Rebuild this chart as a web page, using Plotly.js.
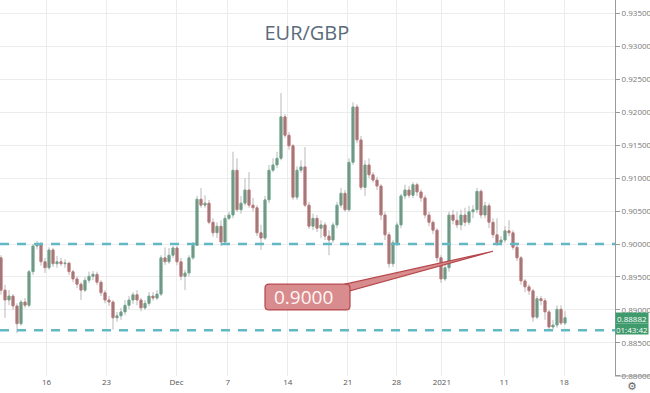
<!DOCTYPE html>
<html><head><meta charset="utf-8">
<script src="https://cdn.plot.ly/plotly-3.0.1.min.js"></script>
<style>html,body{margin:0;padding:0;background:#fff}#chart{width:650px;height:393px}</style>
</head><body><div id="chart"></div>
<script>
// EUR/GBP candles (one bar ≈ 8h), 10 Nov 2020 – 18 Jan 2021
const open = [.8979,.8930,.8915,.8921,.8906,.8879,.8912,.8907,.8958,.8997,
 .9000,.8973,.8964,.8991,.8970,.8973,.8970,.8971,.8958,.8947,
 .8939,.8930,.8945,.8951,.8954,.8942,.8926,.8915,.8912,.8888,
 .8891,.8897,.8907,.8915,.8923,.8915,.8903,.8910,.8921,.8918,
 .8924,.8979,.8973,.8983,.8994,.8973,.8951,.8956,.8979,.8998,
 .9068,.9059,.9062,.9033,.9017,.9027,.9003,.9039,.9044,.9112,
 .9052,.9062,.9082,.9059,.9055,.9017,.9009,.9067,.9112,.9120,
 .9130,.9193,.9165,.9149,.9071,.9112,.9117,.9059,.9027,.9039,
 .9024,.9029,.9012,.9006,.9029,.9059,.9077,.9052,.9124,.9208,
 .9158,.9086,.9120,.9105,.9097,.9088,.9044,.9014,.8970,.9002,
 .9029,.9073,.9082,.9074,.9090,.9079,.9070,.9044,.9033,.9021,
 .8979,.8947,.8964,.9044,.9036,.9029,.9044,.9033,.9049,.9052,
 .9080,.9044,.9058,.9033,.9014,.9002,.9006,.9020,.9017,.8995,
 .8979,.8944,.8935,.8929,.8889,.8917,.8914,.8897,.8874,.8877,
 .8901,.8880];
const high = [.8983,.8938,.8930,.8924,.8910,.8915,.8918,.8961,.9000,.9005,
 .9003,.8979,.8995,.8994,.8982,.8979,.8977,.8973,.8961,.8951,
 .8942,.8950,.8958,.8959,.8958,.8945,.8930,.8921,.8915,.8897,
 .8903,.8915,.8921,.8927,.8930,.8918,.8915,.8927,.8927,.8930,
 .8983,.8995,.8994,.8997,.8997,.8979,.8961,.8983,.9003,.9073,
 .9085,.9074,.9067,.9039,.9033,.9036,.9044,.9049,.9140,.9130,
 .9073,.9100,.9109,.9070,.9059,.9029,.9073,.9120,.9130,.9140,
 .9229,.9197,.9170,.9152,.9118,.9127,.9147,.9064,.9046,.9044,
 .9036,.9033,.9021,.9033,.9064,.9085,.9082,.9130,.9215,.9212,
 .9164,.9127,.9130,.9109,.9102,.9091,.9049,.9018,.9006,.9033,
 .9076,.9090,.9088,.9094,.9093,.9083,.9074,.9049,.9036,.9024,
 .8983,.8970,.9049,.9052,.9049,.9052,.9055,.9058,.9059,.9085,
 .9083,.9064,.9062,.9039,.9039,.9012,.9027,.9036,.9021,.9000,
 .8982,.8947,.8939,.8932,.8921,.8921,.8918,.8900,.8885,.8907,
 .8907,.8898];
const low = [.8923,.8888,.8907,.8900,.8865,.8876,.8903,.8904,.8953,.8992,
 .8967,.8956,.8961,.8965,.8964,.8967,.8964,.8953,.8942,.8933,
 .8915,.8927,.8941,.8945,.8938,.8921,.8910,.8906,.8870,.8882,
 .8885,.8892,.8901,.8909,.8907,.8898,.8900,.8906,.8914,.8915,
 .8921,.8968,.8970,.8979,.8968,.8945,.8930,.8951,.8976,.8997,
 .9055,.9055,.9030,.9011,.9009,.8997,.9000,.9036,.9039,.9049,
 .9046,.9058,.9055,.9049,.9012,.8991,.9006,.9062,.9109,.9115,
 .9127,.9161,.9143,.9067,.9067,.9108,.9056,.9023,.9021,.9018,
 .9009,.9006,.8983,.9002,.9024,.9055,.9049,.9049,.9120,.9153,
 .9082,.9073,.9100,.9093,.9082,.9036,.9006,.8964,.8965,.8997,
 .9024,.9068,.9070,.9070,.9073,.9064,.9039,.9027,.9015,.8973,
 .8941,.8944,.8958,.9030,.9024,.9021,.9027,.9029,.9039,.9047,
 .9039,.9039,.9024,.9009,.8997,.8998,.9002,.9012,.8991,.8974,
 .8938,.8927,.8923,.8882,.8886,.8907,.8885,.8868,.8870,.8873,
 .8877,.8877];
const close = [.8930,.8915,.8921,.8906,.8879,.8912,.8907,.8958,.8997,.9000,
 .8973,.8964,.8991,.8970,.8973,.8970,.8971,.8958,.8947,.8939,
 .8930,.8945,.8951,.8954,.8942,.8926,.8915,.8912,.8888,.8891,
 .8897,.8907,.8915,.8923,.8915,.8903,.8910,.8921,.8918,.8924,
 .8979,.8973,.8983,.8994,.8973,.8951,.8956,.8979,.8998,.9068,
 .9059,.9062,.9033,.9017,.9027,.9003,.9039,.9044,.9112,.9052,
 .9062,.9082,.9059,.9055,.9017,.9009,.9067,.9112,.9120,.9130,
 .9193,.9165,.9149,.9071,.9112,.9117,.9059,.9027,.9039,.9024,
 .9029,.9012,.9006,.9029,.9059,.9077,.9052,.9124,.9208,.9158,
 .9086,.9120,.9105,.9097,.9088,.9044,.9014,.8970,.9002,.9029,
 .9073,.9082,.9074,.9090,.9079,.9070,.9044,.9033,.9021,.8979,
 .8947,.8964,.9044,.9036,.9029,.9044,.9033,.9049,.9052,.9080,
 .9044,.9058,.9033,.9014,.9002,.9006,.9020,.9017,.8995,.8979,
 .8944,.8935,.8929,.8889,.8917,.8914,.8897,.8874,.8877,.8901,
 .8880,.88882];

const tickPositions = [11.4, 26.4, 43.9, 56.7, 71.7, 86.7, 98.9, 110.2, 125.8, 140.8];
const tickLabels = ["16", "23", "Dec", "7", "14", "21", "28", "2021", "11", "18"];
const levels = [0.9000, 0.8869];
const lastPrice = 0.88882;
const countdown = "01:43:42";
const calloutText = "0.9000";
const calloutBox = [66, 87.25, 0.8900, 0.8939];   // bar0, bar1, price0, price1
const calloutTip = [123, 0.8989];
const calloutBase = [[86, 0.8939], [87.25, 0.8929]];

const idx = open.map((_, i) => i);
const bodyHi = open.map((o, i) => Math.max(o, close[i]));
const bodyLo = open.map((o, i) => Math.min(o, close[i]));
const wx = [], wy = [];
idx.forEach(i => { wx.push(i, i, null); wy.push(low[i], high[i], null); });

const wicks = {type: 'scatter', mode: 'lines', x: wx, y: wy, hoverinfo: 'skip',
  line: {color: '#b9b9b9', width: 1}, showlegend: false};
const bodies = {type: 'candlestick', x: idx, open: open, high: bodyHi, low: bodyLo, close: close,
  increasing: {line: {color: '#2f8a5f', width: 1}, fillcolor: '#2b5a45'},
  decreasing: {line: {color: '#b23a3e', width: 1}, fillcolor: '#5c3030'},
  whiskerwidth: 0, showlegend: false, hoverinfo: 'skip'};

const [b0, b1, p0, p1] = calloutBox;
const rk = 1, rp = 0.0006;
const boxPath = `M ${b0+rk},${p1} L ${b1-rk},${p1} Q ${b1},${p1} ${b1},${p1-rp} L ${b1},${p0+rp} Q ${b1},${p0} ${b1-rk},${p0} L ${b0+rk},${p0} Q ${b0},${p0} ${b0},${p0+rp} L ${b0},${p1-rp} Q ${b0},${p1} ${b0+rk},${p1} Z`;
const wedgePath = `M ${calloutBase[0][0]},${calloutBase[0][1]} L ${calloutTip[0]},${calloutTip[1]} L ${calloutBase[1][0]},${calloutBase[1][1]} Z`;

const shapes = levels.map(v => ({type: 'line', xref: 'paper', x0: 0, x1: 1, yref: 'y', y0: v, y1: v,
  line: {color: '#62b9c4', width: 2.5, dash: '9px,8px'}, layer: 'above'}));
shapes.push({type: 'path', path: wedgePath, xref: 'x', yref: 'y', fillcolor: '#d98c8d',
  line: {color: '#b5474c', width: 1.2}, layer: 'above'});
shapes.push({type: 'path', path: boxPath, xref: 'x', yref: 'y', fillcolor: '#d98c8d',
  line: {color: '#b5474c', width: 1.2}, layer: 'above'});
shapes.push({type: 'line', xref: 'paper', x0: 1, x1: 1.057, yref: 'paper', y0: 0, y1: 0,
  line: {color: '#9a9a9a', width: 1}});

const annotations = [
  {text: calloutText, xref: 'x', yref: 'y', x: 67.8, y: (p0 + p1) / 2, xanchor: 'left', yanchor: 'middle',
   showarrow: false, font: {family: 'Open Sans', size: 19, color: '#fff6f6'}},
  {text: lastPrice.toFixed(5), xref: 'paper', yref: 'y', x: 1, y: lastPrice, xanchor: 'left', yanchor: 'middle',
   showarrow: false, bgcolor: '#3f9a6c', width: 31, height: 9, borderpad: 0.5,
   font: {family: 'Open Sans', size: 8, color: '#ffffff'}},
  {text: countdown, xref: 'paper', yref: 'y', x: 1, y: lastPrice, yshift: -11, xanchor: 'left', yanchor: 'middle',
   showarrow: false, bgcolor: '#3f9a6c', width: 31, height: 9, borderpad: 0.5,
   font: {family: 'Open Sans', size: 8, color: '#ffffff'}},
  {text: '⚙', xref: 'paper', yref: 'paper', x: 1.028, y: -0.028, xanchor: 'center', yanchor: 'middle',
   showarrow: false, font: {family: 'DejaVu Sans', size: 11, color: '#666'}}
];

const layout = {
  width: 650, height: 393,
  margin: {l: 0, r: 35, t: 0, b: 17},
  paper_bgcolor: '#ffffff', plot_bgcolor: '#ffffff',
  showlegend: false,
  title: {text: 'EUR/GBP', x: 0.499, xanchor: 'center', xref: 'paper', y: 0.915, yanchor: 'middle',
    font: {family: 'Open Sans', size: 20, color: '#5b6b7b'}},
  xaxis: {range: [-0.25, 153.5], tickmode: 'array', tickvals: tickPositions, ticktext: tickLabels,
    showgrid: true, gridcolor: '#ececec', gridwidth: 1, zeroline: false, showline: false, ticks: '',
    rangeslider: {visible: false}, fixedrange: true,
    tickfont: {family: 'Open Sans', size: 8, color: '#555'}},
  yaxis: {side: 'right', range: [0.87997, 0.93703], tick0: 0.88, dtick: 0.005, tickformat: '.5f',
    showgrid: true, gridcolor: '#ececec', gridwidth: 1, zeroline: false,
    showline: true, linecolor: '#9a9a9a', linewidth: 1, ticks: 'outside', ticklen: 4, tickcolor: '#9a9a9a',
    tickfont: {family: 'Open Sans', size: 8, color: '#777'}},
  shapes: shapes, annotations: annotations
};
Plotly.newPlot('chart', [wicks, bodies], layout, {displayModeBar: false, staticPlot: true});
</script></body></html>
